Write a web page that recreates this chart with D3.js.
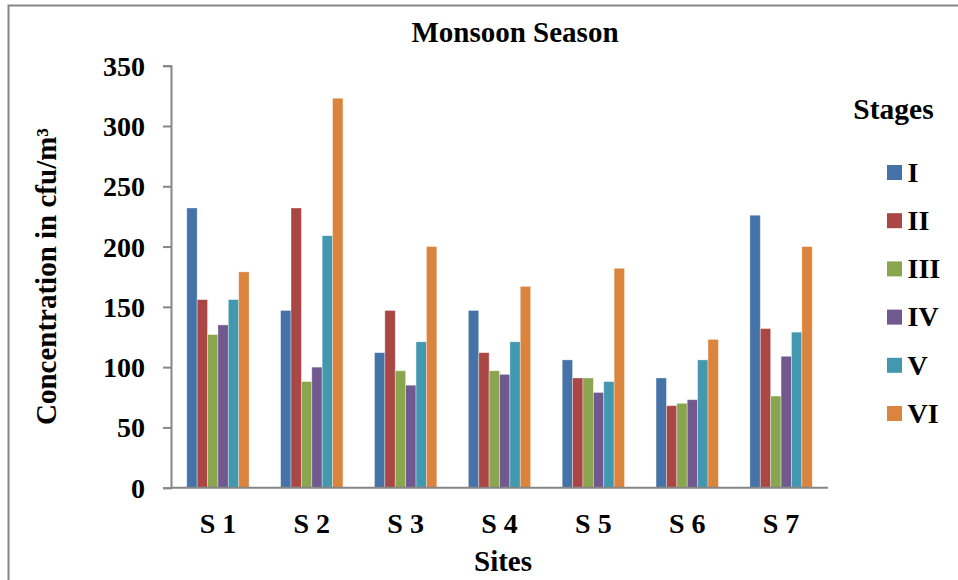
<!DOCTYPE html>
<html>
<head>
<meta charset="utf-8">
<script src="https://cdn.jsdelivr.net/npm/d3@7"></script>
<style>
  html, body { margin: 0; padding: 0; background: #fff; }
  svg { display: block; }
  text { font-family: "Liberation Serif", "Times New Roman", serif; font-weight: bold; fill: #000; }
</style>
</head>
<body>
<svg id="chart" width="958" height="580"></svg>
<script>
// Sites sampled during the monsoon season
const sites = ["S 1", "S 2", "S 3", "S 4", "S 5", "S 6", "S 7"];

// Sampler stages
const stages = ["I", "II", "III", "IV", "V", "VI"];

// Concentration (cfu/m³) per stage, one value per site
const stageI   = [232, 147, 112, 147, 106, 91, 226];
const stageII  = [156, 232, 147, 112, 91, 68, 132];
const stageIII = [127, 88, 97, 97, 91, 70, 76];
const stageIV  = [135, 100, 85, 94, 79, 73, 109];
const stageV   = [156, 209, 121, 121, 88, 106, 129];
const stageVI  = [179, 323, 200, 167, 182, 123, 200];

const yTicks = [0, 50, 100, 150, 200, 250, 300, 350];

const colors = ["#4572A7", "#AA4643", "#89A54E", "#71588F", "#4198AF", "#DB843D"];

const seriesValues = [stageI, stageII, stageIII, stageIV, stageV, stageVI];
const rows = sites.map((s, i) => ({
  site: s,
  values: stages.map((st, j) => ({ stage: st, value: seriesValues[j][i] }))
}));

const svg = d3.select("#chart");
const axisColor = "#868686";

// outer chart frame
svg.append("rect")
  .attr("x", 8.5).attr("y", 5.5)
  .attr("width", 1000).attr("height", 620)
  .attr("fill", "none").attr("stroke", axisColor).attr("stroke-width", 2);

const plot = { left: 171, right: 828, top: 65.7, bottom: 487.7 };

const x0 = d3.scaleBand()
  .domain(sites)
  .range([plot.left, plot.right])
  .paddingInner(0.336)
  .paddingOuter(0.168);

const x1 = d3.scaleBand()
  .domain(stages)
  .range([0, x0.bandwidth()]);

const y = d3.scaleLinear()
  .domain([0, 350])
  .range([plot.bottom, plot.top]);

const color = d3.scaleOrdinal().domain(stages).range(colors);

// bars
const groups = svg.append("g").selectAll("g")
  .data(rows)
  .join("g")
  .attr("transform", d => `translate(${x0(d.site)},0)`);

groups.selectAll("rect")
  .data(d => d.values)
  .join("rect")
  .attr("x", d => x1(d.stage))
  .attr("y", d => y(d.value))
  .attr("width", x1.bandwidth())
  .attr("height", d => y(0) - y(d.value))
  .attr("fill", d => color(d.stage))
  .attr("stroke", "rgba(255,255,255,0.45)")
  .attr("stroke-width", 0.8);

// y axis
const yAxis = svg.append("g")
  .attr("transform", `translate(${plot.left},0)`)
  .call(d3.axisLeft(y).tickValues(yTicks).tickSize(8).tickPadding(18).tickFormat(d3.format("d")));
yAxis.select(".domain").attr("stroke", axisColor).attr("stroke-width", 2);
yAxis.selectAll(".tick line").attr("stroke", axisColor).attr("stroke-width", 2);
yAxis.selectAll(".tick text")
  .attr("font-size", 28)
  .attr("font-family", "Liberation Serif, Times New Roman, serif")
  .attr("font-weight", "bold")
  .attr("fill", "#000")
  .attr("dy", "0.34em");

// x axis
const xAxis = svg.append("g")
  .attr("transform", `translate(0,${plot.bottom})`)
  .call(d3.axisBottom(x0).tickSize(0).tickPadding(0));
xAxis.select(".domain").attr("stroke", axisColor).attr("stroke-width", 2)
  .attr("d", `M${plot.left},0H${plot.right}`);
xAxis.selectAll(".tick text")
  .attr("font-size", 28)
  .attr("font-family", "Liberation Serif, Times New Roman, serif")
  .attr("font-weight", "bold")
  .attr("fill", "#000")
  .attr("dy", null)
  .attr("y", 45);

// title
svg.append("text")
  .attr("x", 515).attr("y", 42.3)
  .attr("text-anchor", "middle")
  .attr("font-size", 29)
  .text("Monsoon Season");

// axis titles
svg.append("text")
  .attr("x", 503).attr("y", 570.5)
  .attr("text-anchor", "middle")
  .attr("font-size", 29)
  .text("Sites");

svg.append("text")
  .attr("transform", "translate(55.5,276.5) rotate(-90)")
  .attr("text-anchor", "middle")
  .attr("font-size", 29)
  .text("Concentration in cfu/m³");

// legend
svg.append("text")
  .attr("x", 893.5).attr("y", 119)
  .attr("text-anchor", "middle")
  .attr("font-size", 29.5)
  .text("Stages");

const legend = svg.append("g").selectAll("g")
  .data(stages)
  .join("g")
  .attr("transform", (d, i) => `translate(887,${165 + i * 48.2})`);

legend.append("rect")
  .attr("width", 15).attr("height", 15)
  .attr("fill", d => color(d));

legend.append("text")
  .attr("x", 20.5).attr("y", 16.7)
  .attr("font-size", 28)
  .text(d => d);
</script>
</body>
</html>
